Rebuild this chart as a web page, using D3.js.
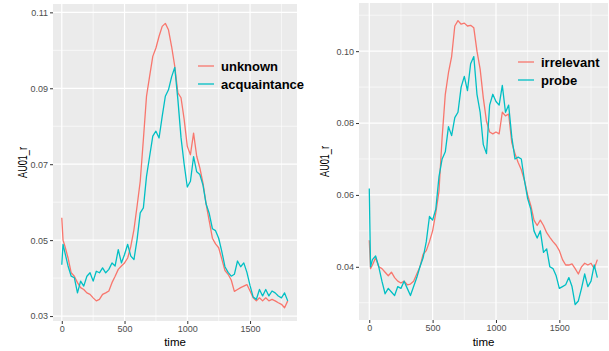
<!DOCTYPE html>
<html>
<head>
<meta charset="utf-8">
<script src="https://cdn.jsdelivr.net/npm/d3@7"></script>
<style>
  body { margin: 0; background: #fff; }
  svg text { font-family: "Liberation Sans", Arial, sans-serif; }
</style>
</head>
<body>
<svg id="chart" width="609" height="351"></svg>
<script>
// sample times shared by all four series
const times = [0, 10, 25, 50, 75, 100, 125, 150, 175, 200, 225, 250, 275, 300, 325, 350, 375, 400,
  425, 450, 475, 500, 525, 550, 575, 600, 625, 650, 675, 700, 725, 750, 775, 800, 825, 850, 875, 900,
  925, 950, 975, 1000, 1025, 1050, 1075, 1100, 1125, 1150, 1175, 1200, 1225, 1250, 1275, 1300, 1325,
  1350, 1375, 1400, 1425, 1450, 1475, 1500, 1525, 1550, 1575, 1600, 1625, 1650, 1675, 1700, 1725,
  1750, 1775, 1800];

// left panel
const unknown = [0.0559, 0.0500, 0.0484, 0.0453, 0.0414, 0.0405, 0.0388, 0.0375, 0.0370, 0.0361,
  0.0357, 0.0348, 0.0340, 0.0344, 0.0357, 0.0361, 0.0366, 0.0388, 0.0405, 0.0423, 0.0432, 0.0440,
  0.0453, 0.0484, 0.0528, 0.0590, 0.0655, 0.0765, 0.0879, 0.0932, 0.0984, 0.1006, 0.1037, 0.1063,
  0.1071, 0.1054, 0.1010, 0.0958, 0.0888, 0.0875, 0.0818, 0.0747, 0.0725, 0.0782, 0.0721, 0.0690,
  0.0650, 0.0595, 0.0550, 0.0505, 0.0490, 0.0480, 0.0450, 0.0420, 0.0410, 0.0395, 0.0365, 0.0370,
  0.0375, 0.0379, 0.0383, 0.0366, 0.0348, 0.0340, 0.0348, 0.0340, 0.0348, 0.0340, 0.0344, 0.0340,
  0.0335, 0.0331, 0.0322, 0.0340];
const acquaintance = [0.0435, 0.0489, 0.0467, 0.0432, 0.0405, 0.0401, 0.0361, 0.0392, 0.0379, 0.0405,
  0.0414, 0.0392, 0.0418, 0.0414, 0.0427, 0.0414, 0.0423, 0.0440, 0.0432, 0.0475, 0.0440, 0.0462,
  0.0489, 0.0458, 0.0449, 0.0502, 0.0572, 0.0585, 0.0668, 0.0721, 0.0774, 0.0787, 0.0769, 0.0826,
  0.0879, 0.0896, 0.0930, 0.0955, 0.0870, 0.0770, 0.0700, 0.0640, 0.0655, 0.0720, 0.0680, 0.0673,
  0.0645, 0.0595, 0.0570, 0.0530, 0.0525, 0.0505, 0.0470, 0.0430, 0.0415, 0.0405, 0.0410, 0.0445,
  0.0430, 0.0440, 0.0415, 0.0380, 0.0350, 0.0344, 0.0370, 0.0353, 0.0370, 0.0353, 0.0366, 0.0361,
  0.0353, 0.0348, 0.0361, 0.0340];

// right panel
const irrelevant = [0.0474, 0.0395, 0.0405, 0.0425, 0.0400, 0.0395, 0.0385, 0.0375, 0.0385, 0.0370,
  0.0360, 0.0355, 0.0360, 0.0350, 0.0352, 0.0360, 0.0380, 0.0400, 0.0435, 0.0445, 0.0470, 0.0500,
  0.0550, 0.0610, 0.0760, 0.0880, 0.0940, 0.0985, 0.1070, 0.1085, 0.1075, 0.1078, 0.1070, 0.1072,
  0.1065, 0.1000, 0.0950, 0.0870, 0.0805, 0.0775, 0.0770, 0.0775, 0.0770, 0.0830, 0.0820, 0.0825,
  0.0745, 0.0715, 0.0690, 0.0670, 0.0640, 0.0600, 0.0570, 0.0530, 0.0515, 0.0530, 0.0515, 0.0495,
  0.0482, 0.0470, 0.0460, 0.0445, 0.0420, 0.0405, 0.0405, 0.0408, 0.0395, 0.0380, 0.0400, 0.0410,
  0.0405, 0.0410, 0.0395, 0.0420];
const probe = [0.0618, 0.0400, 0.0420, 0.0430, 0.0400, 0.0360, 0.0325, 0.0340, 0.0330, 0.0320,
  0.0345, 0.0340, 0.0360, 0.0340, 0.0320, 0.0345, 0.0370, 0.0400, 0.0425, 0.0470, 0.0540, 0.0530,
  0.0560, 0.0650, 0.0700, 0.0720, 0.0790, 0.0765, 0.0815, 0.0830, 0.0900, 0.0930, 0.0890, 0.0965,
  0.0985, 0.0880, 0.0830, 0.0740, 0.0715, 0.0850, 0.0880, 0.0860, 0.0850, 0.0905, 0.0830, 0.0850,
  0.0760, 0.0700, 0.0705, 0.0700, 0.0640, 0.0590, 0.0560, 0.0500, 0.0480, 0.0500, 0.0440, 0.0450,
  0.0400, 0.0395, 0.0375, 0.0340, 0.0345, 0.0350, 0.0370, 0.0345, 0.0295, 0.0305, 0.0340, 0.0380,
  0.0345, 0.0360, 0.0405, 0.0370];

const xTicks = [0, 500, 1000, 1500];
const xMinor = [250, 750, 1250, 1750];
const leftYTicks = [0.03, 0.05, 0.07, 0.09, 0.11];
const leftYMinor = [0.04, 0.06, 0.08, 0.10];
const rightYTicks = [0.04, 0.06, 0.08, 0.10];
const rightYMinor = [0.03, 0.05, 0.07, 0.09, 0.11];

const RED = '#F8766D', TEAL = '#00BFC4';
const svg = d3.select('#chart');

function drawPanel(p) {
  const x = d3.scaleLinear().domain(p.xDomain).range([p.left, p.right]);
  const y = d3.scaleLinear().domain(p.yDomain).range([p.bottom, p.top]);
  const g = svg.append('g');

  g.append('rect')
    .attr('x', p.left).attr('y', p.top)
    .attr('width', p.right - p.left).attr('height', p.bottom - p.top)
    .attr('fill', '#EBEBEB');

  // minor then major grid
  g.selectAll('.ymin').data(p.yMinor).enter().append('line')
    .attr('x1', p.left).attr('x2', p.right)
    .attr('y1', d => y(d)).attr('y2', d => y(d))
    .attr('stroke', '#fff').attr('stroke-width', 0.6);
  g.selectAll('.xmin').data(xMinor).enter().append('line')
    .attr('y1', p.top).attr('y2', p.bottom)
    .attr('x1', d => x(d)).attr('x2', d => x(d))
    .attr('stroke', '#fff').attr('stroke-width', 0.6);
  g.selectAll('.ymaj').data(p.yTicks).enter().append('line')
    .attr('x1', p.left).attr('x2', p.right)
    .attr('y1', d => y(d)).attr('y2', d => y(d))
    .attr('stroke', '#fff').attr('stroke-width', 1.2);
  g.selectAll('.xmaj').data(xTicks).enter().append('line')
    .attr('y1', p.top).attr('y2', p.bottom)
    .attr('x1', d => x(d)).attr('x2', d => x(d))
    .attr('stroke', '#fff').attr('stroke-width', 1.2);

  // series lines
  const line = d3.line().x((d, i) => x(times[i])).y(d => y(d));
  p.series.forEach(s => {
    g.append('path')
      .datum(s.values)
      .attr('d', line)
      .attr('fill', 'none')
      .attr('stroke', s.color)
      .attr('stroke-width', 1.3)
      .attr('stroke-linejoin', 'round');
  });

  // axes
  const xAxis = d3.axisBottom(x).tickValues(xTicks).tickSize(3).tickPadding(2)
    .tickFormat(d3.format('d'));
  const gx = g.append('g').attr('transform', `translate(0,${p.bottom})`).call(xAxis);
  const yAxis = d3.axisLeft(y).tickValues(p.yTicks).tickSize(3).tickPadding(2)
    .tickFormat(d3.format('.2f'));
  const gy = g.append('g').attr('transform', `translate(${p.left},0)`).call(yAxis);
  [gx, gy].forEach(a => {
    a.select('.domain').remove();
    a.selectAll('line').attr('stroke', '#333');
    a.selectAll('text').attr('fill', '#4D4D4D').style('font-size', '9px');
  });

  g.append('text')
    .attr('x', (p.left + p.right) / 2).attr('y', 346)
    .attr('text-anchor', 'middle')
    .style('font-size', '11.5px')
    .text('time');
  g.append('text')
    .attr('transform', `translate(${p.yLabelX},${(p.top + p.bottom) / 2}) rotate(-90) scale(0.7,1)`)
    .attr('text-anchor', 'middle')
    .style('font-size', '13px')
    .text('AU01_r');

  // legend
  p.series.forEach((s, i) => {
    const ly = p.legendY + i * 18;
    g.append('line')
      .attr('x1', p.legendX).attr('x2', p.legendX + 16)
      .attr('y1', ly).attr('y2', ly)
      .attr('stroke', s.color).attr('stroke-width', 1.3);
    g.append('text')
      .attr('x', p.legendX + 23).attr('y', ly)
      .attr('dy', '0.36em')
      .style('font-size', '13px').style('font-weight', 'bold')
      .text(s.name);
  });
}

drawPanel({
  left: 53, right: 297, top: 4, bottom: 321,
  xDomain: [-70, 1874], yDomain: [0.0287, 0.1122],
  yTicks: leftYTicks, yMinor: leftYMinor, yLabelX: 27,
  legendX: 198, legendY: 66,
  series: [
    { name: 'unknown', values: unknown, color: RED },
    { name: 'acquaintance', values: acquaintance, color: TEAL }
  ]
});

drawPanel({
  left: 359, right: 608, top: 3, bottom: 320,
  xDomain: [-81, 1884], yDomain: [0.0252, 0.1134],
  yTicks: rightYTicks, yMinor: rightYMinor, yLabelX: 329,
  legendX: 518, legendY: 62,
  series: [
    { name: 'irrelevant', values: irrelevant, color: RED },
    { name: 'probe', values: probe, color: TEAL }
  ]
});
</script>
</body>
</html>
